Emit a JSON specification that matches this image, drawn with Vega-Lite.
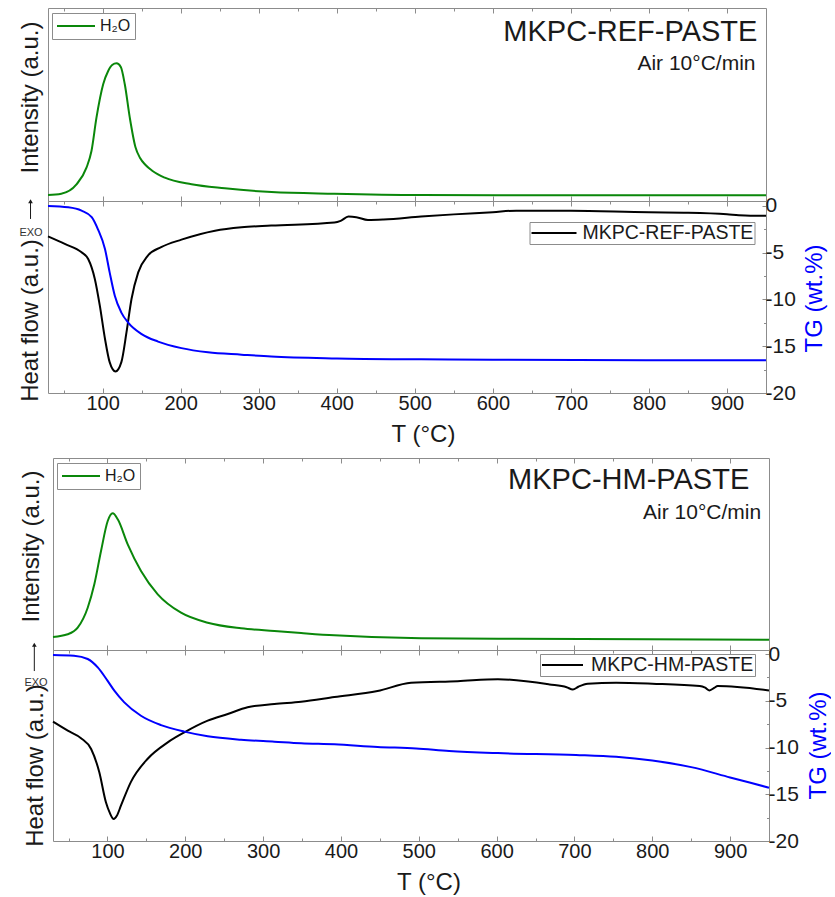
{
"$schema": "https://vega.github.io/schema/vega-lite/v6.json",
"padding": {"left": 17, "top": 7, "right": 0, "bottom": 0},
"background": "white",
"config": {
  "font": "Liberation Sans",
  "view": {"stroke": "#8c8c8c", "strokeWidth": 1},
  "axis": {"domain": false, "grid": false, "tickColor": "#8c8c8c", "tickWidth": 1, "labelColor": "#1a1a1a", "titleColor": "#1a1a1a", "labelFont": "Liberation Sans", "titleFont": "Liberation Sans", "titleFontWeight": "normal", "labelFlush": false, "labelOverlap": false},
  "legend": {"labelFont": "Liberation Sans", "labelColor": "#1a1a1a"},
  "text": {"font": "Liberation Sans"}
},
"datasets": {
  "ms1": [{"T":30,"I":6},{"T":47,"I":7.3},{"T":66.5,"I":16.7},{"T":79.3,"I":33.3},{"T":85.7,"I":50},{"T":92.1,"I":83.3},{"T":100.7,"I":116.7},{"T":107.1,"I":130},{"T":112.2,"I":136},{"T":117.8,"I":137.7},{"T":123.3,"I":134},{"T":128.4,"I":116.7},{"T":134.8,"I":83.3},{"T":142,"I":54},{"T":148,"I":43},{"T":155,"I":36},{"T":164,"I":30},{"T":179.7,"I":23.3},{"T":213.9,"I":16.7},{"T":256.6,"I":12.7},{"T":316.4,"I":9},{"T":397,"I":7.3},{"T":508,"I":6},{"T":672,"I":5.7},{"T":950,"I":5.7}],
  "hf1": [{"T":30,"v":-3.25},{"T":51.5,"v":-4.06},{"T":73,"v":-4.96},{"T":81.5,"v":-5.67},{"T":90,"v":-7.8},{"T":96.4,"v":-10.66},{"T":103,"v":-14.2},{"T":109,"v":-16.7},{"T":116.5,"v":-17.7},{"T":124,"v":-16.7},{"T":130.6,"v":-13.5},{"T":137,"v":-9.95},{"T":145.6,"v":-7.1},{"T":158,"v":-5.3},{"T":175,"v":-4.4},{"T":201,"v":-3.6},{"T":244,"v":-2.64},{"T":278,"v":-2.28},{"T":316,"v":-2.1},{"T":397,"v":-1.78},{"T":405,"v":-1.6},{"T":415,"v":-1.14},{"T":425,"v":-1.2},{"T":440,"v":-1.5},{"T":460,"v":-1.45},{"T":508,"v":-1.14},{"T":550,"v":-0.9},{"T":600,"v":-0.66},{"T":630,"v":-0.5},{"T":700,"v":-0.52},{"T":800,"v":-0.68},{"T":850,"v":-0.72},{"T":900,"v":-0.88},{"T":915,"v":-1.0},{"T":930,"v":-1.05},{"T":950,"v":-1.05}],
  "tg1": [{"T":30,"v":0},{"T":56,"v":-0.14},{"T":73,"v":-0.5},{"T":86,"v":-1.2},{"T":94,"v":-2.5},{"T":103,"v":-4.6},{"T":109,"v":-7.1},{"T":115.6,"v":-9.6},{"T":124,"v":-11.4},{"T":133,"v":-12.5},{"T":150,"v":-13.7},{"T":171,"v":-14.5},{"T":201,"v":-15.2},{"T":235,"v":-15.65},{"T":278,"v":-15.9},{"T":316,"v":-16.1},{"T":400,"v":-16.3},{"T":508,"v":-16.4},{"T":600,"v":-16.45},{"T":950,"v":-16.5}],
  "ms3": [{"T":30,"I":13},{"T":48.9,"I":15.7},{"T":61.7,"I":22.3},{"T":74.6,"I":42.3},{"T":83.1,"I":65.7},{"T":91.7,"I":99},{"T":100.3,"I":129},{"T":106.7,"I":136.7},{"T":113.2,"I":130.7},{"T":126,"I":105.7},{"T":143.1,"I":79},{"T":164.6,"I":55.7},{"T":194.5,"I":37.3},{"T":228.8,"I":27.3},{"T":271.6,"I":21.7},{"T":314.5,"I":19},{"T":348.8,"I":17},{"T":391.6,"I":14.7},{"T":503,"I":11.7},{"T":625,"I":11.3},{"T":950,"I":10.3}],
  "hf4": [{"T":30,"v":-7.24},{"T":49,"v":-8.2},{"T":66,"v":-9.0},{"T":79,"v":-10.16},{"T":89.5,"v":-12.65},{"T":98,"v":-15.86},{"T":103,"v":-17.0},{"T":108,"v":-17.65},{"T":112,"v":-17.3},{"T":117.4,"v":-16.2},{"T":130,"v":-13.7},{"T":151.7,"v":-11.2},{"T":177.4,"v":-9.45},{"T":198.8,"v":-8.38},{"T":228.8,"v":-7.13},{"T":254.6,"v":-6.42},{"T":280,"v":-5.7},{"T":314.5,"v":-5.35},{"T":348.8,"v":-5.1},{"T":391.6,"v":-4.6},{"T":447,"v":-3.96},{"T":490,"v":-3.07},{"T":550,"v":-2.9},{"T":601.6,"v":-2.7},{"T":668,"v":-3.25},{"T":690,"v":-3.55},{"T":698,"v":-3.8},{"T":705,"v":-3.5},{"T":717,"v":-3.17},{"T":753.6,"v":-3.07},{"T":800,"v":-3.17},{"T":861,"v":-3.42},{"T":868,"v":-3.6},{"T":873.6,"v":-3.89},{"T":880,"v":-3.6},{"T":884,"v":-3.42},{"T":950,"v":-3.89}],
  "tg4": [{"T":30,"v":-0.1},{"T":57,"v":-0.18},{"T":74.6,"v":-0.53},{"T":87.5,"v":-1.43},{"T":100,"v":-2.85},{"T":108.8,"v":-3.92},{"T":121.6,"v":-5.17},{"T":143,"v":-6.6},{"T":168.8,"v":-7.6},{"T":198.8,"v":-8.3},{"T":228.8,"v":-8.8},{"T":271.6,"v":-9.17},{"T":314.5,"v":-9.38},{"T":348.8,"v":-9.55},{"T":391.6,"v":-9.66},{"T":447,"v":-9.94},{"T":496.6,"v":-10.1},{"T":539,"v":-10.37},{"T":601.6,"v":-10.6},{"T":702,"v":-10.8},{"T":753.6,"v":-11.0},{"T":800,"v":-11.4},{"T":850,"v":-12.1},{"T":900,"v":-13.2},{"T":950,"v":-14.3}]
},
"vconcat": [
 {
  "vconcat": [
   {
    "width": 718, "height": 193,
    "layer": [
     {"data": {"name": "ms1"}, "mark": {"type": "line", "strokeWidth": 2, "interpolate": "monotone"},
      "encoding": {
       "x": {"field": "T", "type": "quantitative", "scale": {"domain": [30, 950], "nice": false, "zero": false}, "axis": {"orient": "bottom", "values": [100,200,300,400,500,600,700,800,900], "tickSize": -5, "labels": false, "title": null}},
       "y": {"field": "I", "type": "quantitative", "scale": {"domain": [0, 193], "nice": false, "zero": false}, "axis": {"orient": "left", "title": "Intensity (a.u.)", "labels": false, "ticks": false, "titleFontSize": 24, "titleAngle": 270, "titleBaseline": "alphabetic", "titleAlign": "center", "titleX": -11, "titleY": 89}},
       "color": {"datum": "H₂O", "scale": {"range": ["#0a870a"]}, "legend": {"orient": "none", "legendX": 4, "legendY": 5, "title": null, "symbolType": "stroke", "symbolSize": 1444, "symbolStrokeWidth": 2, "labelFontSize": 16, "labelOffset": 4, "padding": 4, "clipHeight": 18, "strokeColor": "#8c8c8c", "fillColor": "white", "labelLimit": 300}}
      }},
     {"data": {"values": [{"T": 939, "I": 160, "label": "MKPC-REF-PASTE"}]}, "mark": {"type": "text", "fontSize": 29, "align": "right", "baseline": "alphabetic", "color": "#1a1a1a"},
      "encoding": {
       "x": {"field": "T", "type": "quantitative", "scale": {"domain": [30, 950], "nice": false, "zero": false}, "axis": {"orient": "top", "values": [100,200,300,400,500,600,700,800,900], "tickSize": -5, "labels": false, "title": null}},
       "y": {"field": "I", "type": "quantitative", "scale": {"domain": [0, 193], "nice": false, "zero": false}, "axis": null},
       "text": {"field": "label"}
      }},
     {"data": {"values": [{"T": 936.6, "I": 131, "label": "Air 10°C/min"}]}, "mark": {"type": "text", "fontSize": 21, "align": "right", "baseline": "alphabetic", "color": "#1a1a1a"},
      "encoding": {
       "x": {"field": "T", "type": "quantitative", "scale": {"domain": [30, 950], "nice": false, "zero": false}, "axis": {"orient": "top", "values": [50,150,250,350,450,550,650,750,850], "tickSize": -3, "labels": false, "title": null}},
       "y": {"field": "I", "type": "quantitative", "scale": {"domain": [0, 193], "nice": false, "zero": false}, "axis": null},
       "text": {"field": "label"}
      }}
    ],
    "resolve": {"axis": {"x": "independent", "y": "independent"}}
   },
   {
    "width": 718, "height": 192,
    "layer": [
     {"data": {"name": "hf1"}, "mark": {"type": "line", "strokeWidth": 2, "interpolate": "monotone"},
      "encoding": {
       "x": {"field": "T", "type": "quantitative", "scale": {"domain": [30, 950], "nice": false, "zero": false}, "axis": {"orient": "bottom", "values": [100,200,300,400,500,600,700,800,900], "tickSize": -5, "labelFontSize": 20, "labelBaseline": "alphabetic", "labelPadding": 21.5, "title": "T (°C)", "titleFontSize": 24, "titleBaseline": "alphabetic", "titleX": 375, "titleY": 48}},
       "y": {"field": "v", "type": "quantitative", "scale": {"domain": [-20, 0.53], "nice": false, "zero": false}, "axis": {"orient": "left", "title": "Heat flow (a.u.)", "labels": false, "ticks": false, "titleFontSize": 24, "titleAngle": 270, "titleBaseline": "alphabetic", "titleAlign": "center", "titleX": -11, "titleY": 119}},
       "color": {"datum": "MKPC-REF-PASTE", "scale": {"range": ["#000000"]}, "legend": {"orient": "none", "legendX": 481.5, "legendY": 21, "title": null, "symbolType": "stroke", "symbolSize": 2025, "symbolStrokeWidth": 2, "labelFontSize": 19.5, "labelOffset": 5, "padding": 1, "clipHeight": 20, "strokeColor": "#8c8c8c", "fillColor": "white", "labelLimit": 400}}
      }},
     {"data": {"name": "tg1"}, "mark": {"type": "line", "strokeWidth": 2, "color": "#0000ff", "interpolate": "monotone"},
      "encoding": {
       "x": {"field": "T", "type": "quantitative", "scale": {"domain": [30, 950], "nice": false, "zero": false}, "axis": {"orient": "top", "values": [100,200,300,400,500,600,700,800,900], "tickSize": -5, "labels": false, "title": null}},
       "y": {"field": "v", "type": "quantitative", "scale": {"domain": [-20, 0.53], "nice": false, "zero": false}, "axis": {"orient": "right", "values": [0,-5,-10,-15,-20], "labelExpr": "datum.value < 0 ? '-' + abs(datum.value) : '' + datum.value", "tickSize": -4, "labelPadding": 3, "labelFontSize": 21, "labelAlign": "left", "title": "TG (wt.%)", "titleFontSize": 24, "titleColor": "#0000ff", "titleAngle": 270, "titleBaseline": "alphabetic", "titleAlign": "center", "titleX": 55, "titleY": 97}}
      }},
     {"data": {"values": [{"T": 8.2, "v": -2.89, "label": "EXO"}]}, "mark": {"type": "text", "fontSize": 11, "color": "#333333"},
      "encoding": {
       "x": {"field": "T", "type": "quantitative", "scale": {"domain": [30, 950], "nice": false, "zero": false}, "axis": {"orient": "bottom", "values": [50,150,250,350,450,550,650,750,850], "tickSize": -3, "labels": false, "title": null}},
       "y": {"field": "v", "type": "quantitative", "scale": {"domain": [-20, 0.53], "nice": false, "zero": false}, "axis": {"orient": "right", "values": [-2.5,-7.5,-12.5,-17.5], "tickSize": -2.5, "labels": false, "title": null}},
       "text": {"field": "label"}
      }},
     {"data": {"values": [{"T": 7.6, "v": -1.39, "v2": 0.4}]}, "mark": {"type": "rule", "strokeWidth": 1, "color": "#1a1a1a"},
      "encoding": {
       "x": {"field": "T", "type": "quantitative", "scale": {"domain": [30, 950], "nice": false, "zero": false}, "axis": {"orient": "top", "values": [50,150,250,350,450,550,650,750,850], "tickSize": -3, "labels": false, "title": null}},
       "y": {"field": "v", "type": "quantitative", "scale": {"domain": [-20, 0.53], "nice": false, "zero": false}, "axis": null},
       "y2": {"field": "v2"}
      }},
     {"data": {"values": [{"T": 7.6, "v": 0.5}]}, "mark": {"type": "point", "shape": "triangle-up", "filled": true, "size": 22, "color": "#1a1a1a", "opacity": 1},
      "encoding": {
       "x": {"field": "T", "type": "quantitative", "scale": {"domain": [30, 950], "nice": false, "zero": false}, "axis": null},
       "y": {"field": "v", "type": "quantitative", "scale": {"domain": [-20, 0.53], "nice": false, "zero": false}, "axis": null}
      }}
    ],
    "resolve": {"scale": {"y": "independent"}, "axis": {"x": "independent"}}
   }
  ],
  "spacing": 0,
  "bounds": "flush",
  "resolve": {"scale": {"color": "independent", "x": "independent", "y": "independent"}, "legend": {"color": "independent"}}
 },
 {
  "hconcat": [
   {"width": 1, "height": 1, "data": {"values": []}, "mark": {"type": "point", "opacity": 0}, "view": {"stroke": null}},
   {
    "vconcat": [
     {
      "width": 716, "height": 192,
      "layer": [
       {"data": {"name": "ms3"}, "mark": {"type": "line", "strokeWidth": 2, "interpolate": "monotone"},
        "encoding": {
         "x": {"field": "T", "type": "quantitative", "scale": {"domain": [30, 950], "nice": false, "zero": false}, "axis": {"orient": "bottom", "values": [100,200,300,400,500,600,700,800,900], "tickSize": -5, "labels": false, "title": null}},
         "y": {"field": "I", "type": "quantitative", "scale": {"domain": [0, 192], "nice": false, "zero": false}, "axis": {"orient": "left", "title": "Intensity (a.u.)", "labels": false, "ticks": false, "titleFontSize": 24, "titleAngle": 270, "titleBaseline": "alphabetic", "titleAlign": "center", "titleX": -15, "titleY": 88}},
         "color": {"datum": "H₂O", "scale": {"range": ["#0a870a"]}, "legend": {"orient": "none", "legendX": 4, "legendY": 5, "title": null, "symbolType": "stroke", "symbolSize": 1444, "symbolStrokeWidth": 2, "labelFontSize": 16, "labelOffset": 4, "padding": 4, "clipHeight": 18, "strokeColor": "#8c8c8c", "fillColor": "white", "labelLimit": 300}}
        }},
       {"data": {"values": [{"T": 924.6, "I": 161, "label": "MKPC-HM-PASTE"}]}, "mark": {"type": "text", "fontSize": 29, "align": "right", "baseline": "alphabetic", "color": "#1a1a1a"},
        "encoding": {
         "x": {"field": "T", "type": "quantitative", "scale": {"domain": [30, 950], "nice": false, "zero": false}, "axis": {"orient": "top", "values": [100,200,300,400,500,600,700,800,900], "tickSize": -5, "labels": false, "title": null}},
         "y": {"field": "I", "type": "quantitative", "scale": {"domain": [0, 192], "nice": false, "zero": false}, "axis": null},
         "text": {"field": "label"}
        }},
       {"data": {"values": [{"T": 940, "I": 131, "label": "Air 10°C/min"}]}, "mark": {"type": "text", "fontSize": 21, "align": "right", "baseline": "alphabetic", "color": "#1a1a1a"},
        "encoding": {
         "x": {"field": "T", "type": "quantitative", "scale": {"domain": [30, 950], "nice": false, "zero": false}, "axis": {"orient": "top", "values": [50,150,250,350,450,550,650,750,850], "tickSize": -3, "labels": false, "title": null}},
         "y": {"field": "I", "type": "quantitative", "scale": {"domain": [0, 192], "nice": false, "zero": false}, "axis": null},
         "text": {"field": "label"}
        }}
      ],
      "resolve": {"axis": {"x": "independent", "y": "independent"}}
     },
     {
      "width": 716, "height": 191,
      "layer": [
       {"data": {"name": "hf4"}, "mark": {"type": "line", "strokeWidth": 2, "interpolate": "monotone"},
        "encoding": {
         "x": {"field": "T", "type": "quantitative", "scale": {"domain": [30, 950], "nice": false, "zero": false}, "axis": {"orient": "bottom", "values": [100,200,300,400,500,600,700,800,900], "tickSize": -5, "labelFontSize": 20, "labelBaseline": "alphabetic", "labelPadding": 21.5, "title": "T (°C)", "titleFontSize": 24, "titleBaseline": "alphabetic", "titleX": 375.5, "titleY": 48}},
         "y": {"field": "v", "type": "quantitative", "scale": {"domain": [-20, 0.43], "nice": false, "zero": false}, "axis": {"orient": "left", "title": "Heat flow (a.u.)", "labels": false, "ticks": false, "titleFontSize": 24, "titleAngle": 270, "titleBaseline": "alphabetic", "titleAlign": "center", "titleX": -11, "titleY": 115}},
         "color": {"datum": "MKPC-HM-PASTE", "scale": {"range": ["#000000"]}, "legend": {"orient": "none", "legendX": 487, "legendY": 4, "title": null, "symbolType": "stroke", "symbolSize": 1681, "symbolStrokeWidth": 2, "labelFontSize": 19.5, "labelOffset": 7, "padding": 1, "clipHeight": 20, "strokeColor": "#8c8c8c", "fillColor": "white", "labelLimit": 400}}
        }},
       {"data": {"name": "tg4"}, "mark": {"type": "line", "strokeWidth": 2, "color": "#0000ff", "interpolate": "monotone"},
        "encoding": {
         "x": {"field": "T", "type": "quantitative", "scale": {"domain": [30, 950], "nice": false, "zero": false}, "axis": {"orient": "top", "values": [100,200,300,400,500,600,700,800,900], "tickSize": -5, "labels": false, "title": null}},
         "y": {"field": "v", "type": "quantitative", "scale": {"domain": [-20, 0.43], "nice": false, "zero": false}, "axis": {"orient": "right", "values": [0,-5,-10,-15,-20], "labelExpr": "datum.value < 0 ? '-' + abs(datum.value) : '' + datum.value", "tickSize": -4, "labelPadding": 3, "labelFontSize": 21, "labelAlign": "left", "title": "TG (wt.%)", "titleFontSize": 24, "titleColor": "#0000ff", "titleAngle": 270, "titleBaseline": "alphabetic", "titleAlign": "center", "titleX": 56.5, "titleY": 95}}
        }},
       {"data": {"values": [{"T": 8.15, "v": -3.07, "label": "EXO"}]}, "mark": {"type": "text", "fontSize": 11, "color": "#333333"},
        "encoding": {
         "x": {"field": "T", "type": "quantitative", "scale": {"domain": [30, 950], "nice": false, "zero": false}, "axis": {"orient": "bottom", "values": [50,150,250,350,450,550,650,750,850], "tickSize": -3, "labels": false, "title": null}},
         "y": {"field": "v", "type": "quantitative", "scale": {"domain": [-20, 0.43], "nice": false, "zero": false}, "axis": {"orient": "right", "values": [-2.5,-7.5,-12.5,-17.5], "tickSize": -2.5, "labels": false, "title": null}},
         "text": {"field": "label"}
        }},
       {"data": {"values": [{"T": 6, "v": -1.82, "v2": 0.9}]}, "mark": {"type": "rule", "strokeWidth": 1, "color": "#1a1a1a"},
        "encoding": {
         "x": {"field": "T", "type": "quantitative", "scale": {"domain": [30, 950], "nice": false, "zero": false}, "axis": {"orient": "top", "values": [50,150,250,350,450,550,650,750,850], "tickSize": -3, "labels": false, "title": null}},
         "y": {"field": "v", "type": "quantitative", "scale": {"domain": [-20, 0.43], "nice": false, "zero": false}, "axis": null},
         "y2": {"field": "v2"}
        }},
       {"data": {"values": [{"T": 6, "v": 1.0}]}, "mark": {"type": "point", "shape": "triangle-up", "filled": true, "size": 22, "color": "#1a1a1a", "opacity": 1},
        "encoding": {
         "x": {"field": "T", "type": "quantitative", "scale": {"domain": [30, 950], "nice": false, "zero": false}, "axis": null},
         "y": {"field": "v", "type": "quantitative", "scale": {"domain": [-20, 0.43], "nice": false, "zero": false}, "axis": null}
        }}
      ],
      "resolve": {"scale": {"y": "independent"}, "axis": {"x": "independent"}}
     }
    ],
    "spacing": 0,
    "bounds": "flush",
    "resolve": {"scale": {"color": "independent", "x": "independent", "y": "independent"}, "legend": {"color": "independent"}}
   }
  ],
  "spacing": 4,
  "bounds": "flush",
  "resolve": {"scale": {"color": "independent", "x": "independent", "y": "independent"}, "legend": {"color": "independent"}}
 }
],
"spacing": 10,
"resolve": {"scale": {"color": "independent", "x": "independent", "y": "independent"}, "legend": {"color": "independent"}}
}
